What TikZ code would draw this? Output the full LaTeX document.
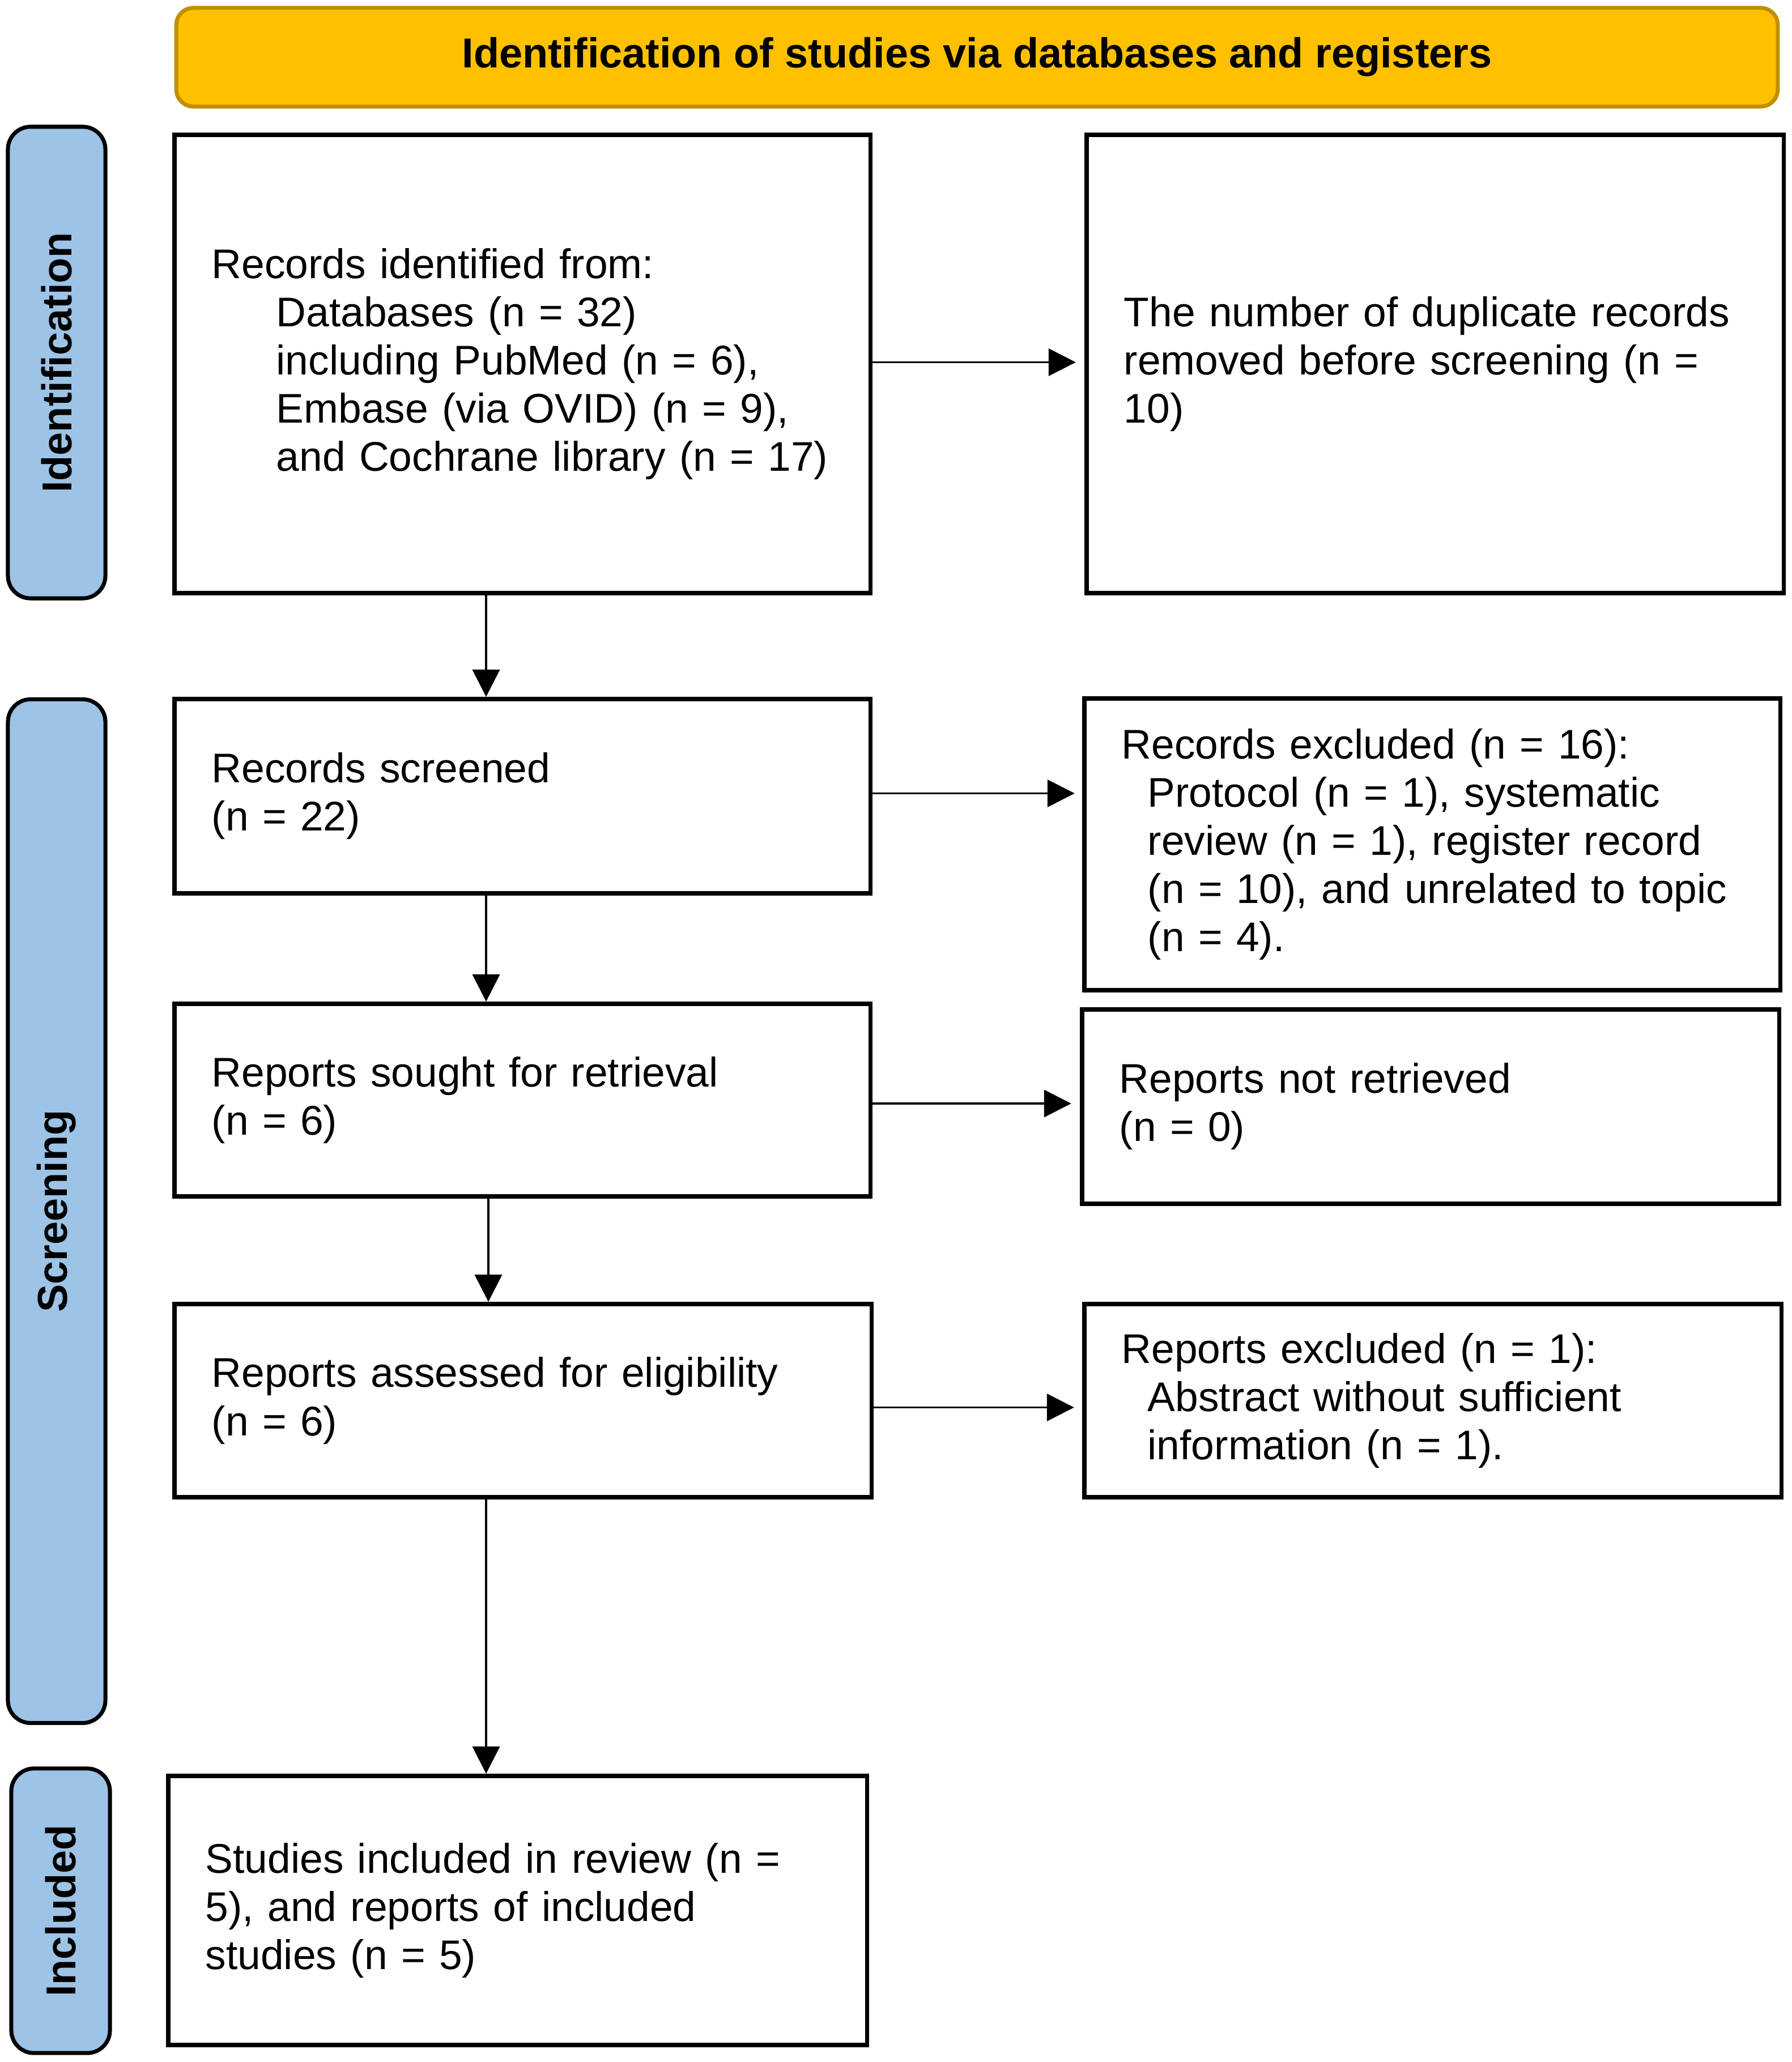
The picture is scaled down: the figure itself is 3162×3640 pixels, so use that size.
\documentclass[tikz,border=0pt]{standalone}
\usepackage{fontspec}
\setmainfont{Liberation Sans}
\usetikzlibrary{arrows.meta}
\definecolor{bannerfill}{HTML}{FFC000}
\definecolor{bannerline}{HTML}{BF9000}
\definecolor{barfill}{HTML}{9DC3E6}
\begin{document}
\begin{tikzpicture}[x=0.01cm,y=-0.01cm,
  flowbox/.style={draw=black, line width=2.2pt, rectangle, align=left,
    inner xsep=0.66cm, inner ysep=0pt, font=\fontsize{20.8}{24.2}\selectfont},
  phasebar/.style={draw=black, fill=barfill, line width=2pt, rounded corners=0.4cm,
    rectangle, rotate=90, inner sep=0pt, font=\fontsize{21}{24.2}\selectfont\bfseries},
  banner/.style={draw=bannerline, fill=bannerfill, line width=2pt, rounded corners=0.3cm,
    rectangle, inner sep=0pt, font=\fontsize{21}{24.2}\selectfont\bfseries},
  arr/.style={-{Triangle[length=13.6pt,width=13.6pt]}, line width=1.1pt, draw=black}
]
\useasboundingbox (0,0) rectangle (3162,3640);

% header banner
\node[banner, minimum width=28.25cm, minimum height=1.74cm] (head) at (1724.5,101)
  {Identification of studies via databases and registers};

% phase bars
\node[phasebar, minimum width=8.32cm, minimum height=1.72cm] (idbar) at (100,640) {Identification};
\node[phasebar, minimum width=18.06cm, minimum height=1.72cm] (scrbar) at (100,2138) {Screening};
\node[phasebar, minimum width=5.02cm, minimum height=1.74cm] (inclbar) at (107,3373) {Included};

% boxes
\node[flowbox, minimum width=12.28cm, minimum height=8.09cm, text width=10.96cm] (ident) at (922,642.5)
  {Records identified from:\\
   \hspace*{1.14cm}Databases (n = 32)\\
   \hspace*{1.14cm}including PubMed (n = 6),\\
   \hspace*{1.14cm}Embase (via OVID) (n = 9),\\
   \hspace*{1.14cm}\mbox{and Cochrane library (n = 17)}};
\node[flowbox, minimum width=12.30cm, minimum height=8.09cm, text width=10.98cm] (dup) at (2533,642.5)
  {\mbox{The number of duplicate records}\\
   \mbox{removed before screening (n =}\\
   10)};
\node[flowbox, minimum width=12.28cm, minimum height=3.43cm, text width=10.96cm] (scr) at (922,1405.5)
  {Records screened\\ (n = 22)};
\node[flowbox, minimum width=12.28cm, minimum height=5.15cm, text width=10.96cm] (excl) at (2528,1490.5)
  {Records excluded (n = 16):\\
   \hspace*{0.46cm}\mbox{Protocol (n = 1), systematic}\\
   \hspace*{0.46cm}\mbox{review (n = 1), register record}\\
   \hspace*{0.46cm}\mbox{(n = 10), and unrelated to topic}\\
   \hspace*{0.46cm}(n = 4).};
\node[flowbox, minimum width=12.28cm, minimum height=3.40cm, text width=10.96cm] (sought) at (922,1942)
  {Reports sought for retrieval\\ (n = 6)};
\node[flowbox, minimum width=12.30cm, minimum height=3.43cm, text width=10.98cm] (notret) at (2525,1953.5)
  {Reports not retrieved\\ (n = 0)};
\node[flowbox, minimum width=12.30cm, minimum height=3.41cm, text width=10.98cm] (assess) at (923,2472.5)
  {\mbox{Reports assessed for eligibility}\\ (n = 6)};
\node[flowbox, minimum width=12.30cm, minimum height=3.41cm, text width=10.98cm] (repex) at (2529,2472.5)
  {Reports excluded (n = 1):\\
   \hspace*{0.46cm}\mbox{Abstract without sufficient}\\
   \hspace*{0.46cm}information (n = 1).};
\node[flowbox, minimum width=12.33cm, minimum height=4.75cm, text width=11.01cm] (incl) at (913.5,3372.5)
  {\mbox{Studies included in review (n =}\\
   \mbox{5), and reports of included}\\
   studies (n = 5)};

% vertical guide coordinates
\coordinate (va) at (858,0);
\coordinate (vb) at (862,0);

% horizontal arrows
\draw[arr, shorten >=0.15cm] ([yshift=0.03cm]ident.east) -- ([yshift=0.03cm]ident.east -| dup.west);
\draw[arr, shorten >=0.13cm] ([yshift=0.05cm]scr.east) -- ([yshift=0.05cm]scr.east -| excl.west);
\draw[arr, shorten >=0.15cm] ([yshift=-0.06cm]sought.east) -- ([yshift=-0.06cm]sought.east -| notret.west);
\draw[arr, shorten >=0.14cm] ([yshift=-0.12cm]assess.east) -- ([yshift=-0.12cm]assess.east -| repex.west);

% vertical arrows
\draw[arr] (ident.south -| va) -- (scr.north -| va);
\draw[arr] (scr.south -| va) -- (sought.north -| va);
\draw[arr] (sought.south -| vb) -- (assess.north -| vb);
\draw[arr] (assess.south -| va) -- (incl.north -| va);
\end{tikzpicture}
\end{document}
